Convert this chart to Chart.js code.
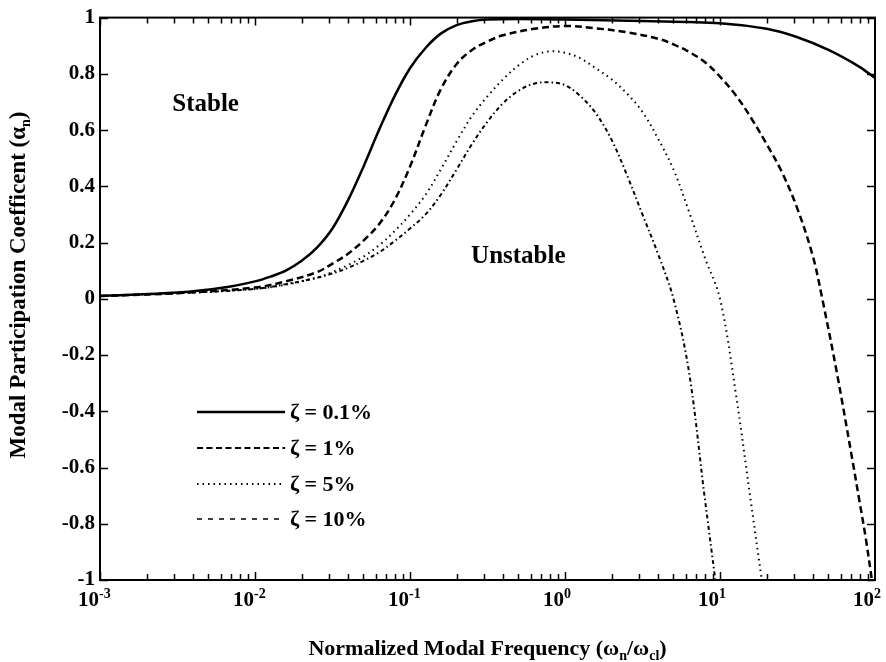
<!DOCTYPE html>
<html>
<head>
<meta charset="utf-8">
<script src="https://cdn.jsdelivr.net/npm/chart.js@4.4.1/dist/chart.umd.min.js"></script>
<style>
  html, body { margin: 0; padding: 0; background: #fff; }
  canvas { display: block; }
</style>
</head>
<body>
<canvas id="graph" width="886" height="662"></canvas>
<script>
// normalized modal frequency (wn/wcl) and participation coefficient, one pair per damping ratio
const freq01 = [0.001, 0.00316, 0.0063, 0.01, 0.0126, 0.0158, 0.02, 0.0251, 0.0316, 0.0398, 0.0501, 0.0631, 0.0794, 0.1, 0.126, 0.158, 0.2, 0.251, 0.316, 0.501, 1, 3.16, 10, 20, 31.6, 50.1, 79.4, 100];
const coef01 = [0.01, 0.022, 0.04, 0.062, 0.079, 0.1, 0.135, 0.182, 0.25, 0.35, 0.47, 0.6, 0.72, 0.82, 0.892, 0.943, 0.973, 0.987, 0.993, 0.995, 0.993, 0.988, 0.98, 0.96, 0.93, 0.885, 0.825, 0.785];

const freq1 = [0.001, 0.00316, 0.01, 0.0158, 0.0251, 0.0316, 0.0398, 0.0501, 0.0631, 0.0794, 0.1, 0.126, 0.158, 0.2, 0.251, 0.316, 0.398, 0.631, 1, 1.58, 2.51, 3.98, 5.01, 6.31, 7.94, 10, 12.6, 15.8, 20, 25.1, 31.6, 39.8, 45.7, 56.2, 70.8, 79.4, 87.1, 95.5];
const coef1 = [0.01, 0.02, 0.04, 0.062, 0.095, 0.125, 0.16, 0.207, 0.265, 0.35, 0.47, 0.615, 0.745, 0.835, 0.885, 0.915, 0.937, 0.96, 0.97, 0.962, 0.948, 0.925, 0.905, 0.878, 0.843, 0.79, 0.725, 0.645, 0.55, 0.45, 0.32, 0.15, 0.0, -0.25, -0.56, -0.72, -0.85, -1.0];

const freq5 = [0.001, 0.00316, 0.01, 0.0158, 0.0251, 0.0316, 0.0398, 0.0501, 0.0631, 0.0794, 0.1, 0.126, 0.158, 0.2, 0.251, 0.316, 0.398, 0.501, 0.631, 0.794, 1, 1.26, 1.58, 2, 2.51, 3.16, 3.98, 5.01, 6.31, 7.94, 10, 12.6, 15.8, 18.6];
const coef5 = [0.01, 0.02, 0.035, 0.05, 0.075, 0.095, 0.12, 0.15, 0.19, 0.24, 0.3, 0.37, 0.46, 0.56, 0.65, 0.72, 0.78, 0.83, 0.865, 0.88, 0.875, 0.855, 0.82, 0.78, 0.73, 0.665, 0.57, 0.46, 0.31, 0.15, 0.0, -0.33, -0.72, -1.0];

const freq10 = [0.001, 0.00316, 0.01, 0.0158, 0.0251, 0.0316, 0.0398, 0.0501, 0.0631, 0.0794, 0.1, 0.126, 0.158, 0.2, 0.251, 0.316, 0.398, 0.501, 0.631, 0.794, 1, 1.26, 1.58, 2, 2.51, 3.16, 3.98, 5.01, 6.31, 7.94, 9.33];
const coef10 = [0.01, 0.02, 0.035, 0.052, 0.075, 0.09, 0.11, 0.135, 0.165, 0.205, 0.25, 0.3, 0.37, 0.46, 0.55, 0.63, 0.695, 0.74, 0.765, 0.77, 0.76, 0.72, 0.66, 0.565, 0.44, 0.3, 0.16, 0.0, -0.26, -0.7, -1.0];

const seriesNames = ['ζ = 0.1%', 'ζ = 1%', 'ζ = 5%', 'ζ = 10%'];
const xDecades = [0.001, 0.01, 0.1, 1, 10, 100];
const xExponents = ['-3', '-2', '-1', '0', '1', '2'];

const serif = '"Liberation Serif", "Times New Roman", serif';

function pts(f, c) {
  return f.map((v, i) => ({ x: v, y: c[i] }));
}

// text with subscripts: parts = [[text, isSub], ...]
function drawRich(ctx, parts, size) {
  let w = 0;
  parts.forEach(([t, sub]) => {
    ctx.font = `bold ${sub ? Math.round(size * 0.62) : size}px ${serif}`;
    w += ctx.measureText(t).width;
  });
  let x = -w / 2;
  parts.forEach(([t, sub]) => {
    ctx.font = `bold ${sub ? Math.round(size * 0.62) : size}px ${serif}`;
    ctx.fillText(t, x, sub ? size * 0.22 : 0);
    x += ctx.measureText(t).width;
  });
}

const decor = {
  id: 'decor',
  afterDraw(chart) {
    const ctx = chart.ctx;
    const a = chart.chartArea;
    const xs = chart.scales.x, ys = chart.scales.y;
    ctx.save();
    ctx.strokeStyle = '#000';
    ctx.fillStyle = '#000';

    // frame
    ctx.lineWidth = 2;
    ctx.strokeRect(a.left, a.top, a.right - a.left, a.bottom - a.top);

    // x ticks, top and bottom, pointing inward
    ctx.lineWidth = 1.5;
    for (let d = 0; d < xDecades.length - 1; d++) {
      for (let m = 1; m < 10; m++) {
        const px = Math.round(xs.getPixelForValue(xDecades[d] * m)) + 0.5;
        const len = m === 1 ? 8 : 6;
        ctx.beginPath();
        ctx.moveTo(px, a.bottom); ctx.lineTo(px, a.bottom - len);
        ctx.moveTo(px, a.top); ctx.lineTo(px, a.top + len);
        ctx.stroke();
      }
    }
    // y ticks, left and right
    for (let v = -1; v <= 1.001; v += 0.2) {
      const py = Math.round(ys.getPixelForValue(v)) + 0.5;
      ctx.beginPath();
      ctx.moveTo(a.left, py); ctx.lineTo(a.left + 8, py);
      ctx.moveTo(a.right, py); ctx.lineTo(a.right - 8, py);
      ctx.stroke();
    }

    // x tick labels 10^n
    ctx.textBaseline = 'alphabetic';
    xDecades.forEach((d, i) => {
      const px = xs.getPixelForValue(d);
      ctx.font = `bold 21px ${serif}`;
      ctx.textAlign = 'right';
      ctx.fillText('10', px - 1, a.bottom + 26);
      ctx.font = `bold 14px ${serif}`;
      ctx.textAlign = 'left';
      ctx.fillText(xExponents[i], px - 1, a.bottom + 18);
    });

    // axis titles
    ctx.textAlign = 'left';
    ctx.save();
    ctx.translate((a.left + a.right) / 2, 655);
    drawRich(ctx, [['Normalized Modal Frequency (ω', false], ['n', true], ['/ω', false], ['cl', true], [')', false]], 22);
    ctx.restore();
    ctx.save();
    ctx.translate(25, 285);
    ctx.rotate(-Math.PI / 2);
    drawRich(ctx, [['Modal Participation Coefficent (α', false], ['n', true], [')', false]], 23);
    ctx.restore();

    // region labels
    ctx.textAlign = 'center';
    ctx.textBaseline = 'middle';
    ctx.font = `bold 25px ${serif}`;
    ctx.fillText('Stable', xs.getPixelForValue(0.0048), ys.getPixelForValue(0.69));
    ctx.fillText('Unstable', xs.getPixelForValue(0.5), ys.getPixelForValue(0.152));

    // legend
    const rows = [412, 448, 484, 519];
    const dashes = [[], [6, 3.5], [1.5, 4], [5, 6]];
    const widths = [2.5, 2, 2, 1.5];
    ctx.textAlign = 'left';
    ctx.font = `bold 22px ${serif}`;
    rows.forEach((y, i) => {
      ctx.beginPath();
      ctx.setLineDash(dashes[i]);
      ctx.lineWidth = widths[i];
      ctx.moveTo(197, y); ctx.lineTo(285, y);
      ctx.stroke();
      ctx.setLineDash([]);
      ctx.fillText(seriesNames[i], 290, y + 1);
    });
    ctx.restore();
  }
};

new Chart(document.getElementById('graph'), {
  type: 'line',
  data: {
    datasets: [
      { label: seriesNames[0], data: pts(freq01, coef01), borderWidth: 2.5, borderDash: [] },
      { label: seriesNames[1], data: pts(freq1, coef1), borderWidth: 2.5, borderDash: [7, 4] },
      { label: seriesNames[2], data: pts(freq5, coef5), borderWidth: 2, borderDash: [1.5, 4] },
      { label: seriesNames[3], data: pts(freq10, coef10), borderWidth: 2, borderDash: [4, 3, 1.5, 3] }
    ].map(ds => Object.assign(ds, {
      borderColor: '#000',
      pointRadius: 0,
      fill: false,
      tension: 0.35
    }))
  },
  options: {
    responsive: false,
    animation: false,
    devicePixelRatio: 1,
    layout: { padding: { top: 16, right: 11, left: 0, bottom: 0 } },
    plugins: { legend: { display: false }, tooltip: { enabled: false } },
    scales: {
      x: {
        type: 'logarithmic',
        min: 0.001,
        max: 100,
        grid: { display: false },
        border: { display: false },
        ticks: { display: false },
        afterFit: s => { s.height = 82; }
      },
      y: {
        type: 'linear',
        min: -1,
        max: 1,
        grid: { display: false, drawTicks: false, tickLength: 0 },
        border: { display: false },
        ticks: {
          stepSize: 0.2,
          padding: 5,
          color: '#000',
          font: { family: serif, size: 21, weight: 'bold' },
          callback: v => String(Number(v.toFixed(1)))
        },
        afterFit: s => { s.width = 100; }
      }
    }
  },
  plugins: [decor]
});
</script>
</body>
</html>
